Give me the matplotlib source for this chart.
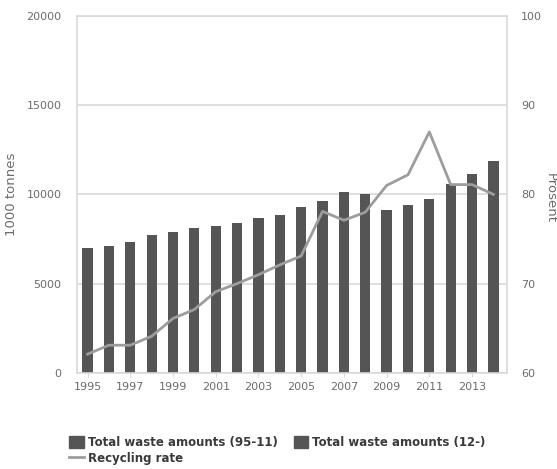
import matplotlib
matplotlib.use('Agg')
from matplotlib import pyplot as plt
from matplotlib.patches import Patch
from matplotlib.lines import Line2D
import numpy as np

plt.rcParams['font.family'] = ['DejaVu Sans']

years_old = [1995, 1996, 1997, 1998, 1999, 2000, 2001, 2002, 2003, 2004,
             2005, 2006, 2007, 2008, 2009, 2010, 2011]
waste_old = [7000, 7110, 7340, 7710, 7900, 8120, 8220, 8370, 8680, 8870,
             9320, 9640, 10120, 10050, 9150, 9410, 9770]
years_new = [2012, 2013, 2014]
waste_new = [10570, 11170, 11860]
years_rate = list(range(1995, 2015))
rate = [62.1, 63.1, 63.1, 64.1, 66.1, 67.1, 69.1, 70.0, 71.0, 72.1,
        73.1, 78.1, 77.1, 78.0, 81.0, 82.2, 87.0, 81.1, 81.1, 80.0]
xticks = list(range(1995, 2014, 2))

bar_c = '#555555'
line_c = '#9d9d9d'
grid_c = '#d9d9d9'
txt_c = '#6b6b6b'

fig = plt.figure(figsize=(5.57, 4.69), dpi=100)
ax = fig.add_axes([0.138, 0.205, 0.772, 0.761])
ax.bar(years_old, waste_old, width=0.48, color=bar_c, zorder=2)
ax.bar(years_new, waste_new, width=0.48, color=bar_c, zorder=2)
ax.set_ylim(0, 20000)
ax.set_yticks([0, 5000, 10000, 15000, 20000])
ax.set_xlim(1994.5, 2014.63)
ax.set_xticks(xticks)
ax.grid(axis='y', color=grid_c, lw=1.2, zorder=0)
ax.set_axisbelow(True)
ax.tick_params(axis='y', length=0, labelsize=8, colors=txt_c, pad=11)
ax.tick_params(axis='x', length=3, color=grid_c, labelsize=8, colors=txt_c)
for s in ax.spines.values():
    s.set_color(grid_c)
    s.set_linewidth(1.2)
ax.set_ylabel('1000 tonnes', color=txt_c, fontsize=9.5)
ax.yaxis.set_label_coords(-0.137, 0.5)

ax2 = ax.twinx()
ax2.plot(years_rate, rate, color=line_c, lw=2, zorder=3)
ax2.set_ylim(60, 100)
ax2.set_yticks([60, 70, 80, 90, 100])
ax2.tick_params(axis='y', length=0, labelsize=8, colors=txt_c, pad=10)
for s in ax2.spines.values():
    s.set_visible(False)
ax2.set_ylabel('Prosent', color=txt_c, fontsize=9.5, rotation=-90,
               va='center')
ax2.yaxis.set_label_coords(1.1, 0.49)

handles = [Patch(color=bar_c), Line2D([], [], color=line_c, lw=2),
           Patch(color=bar_c)]
labels = ['Total waste amounts (95-11)', 'Recycling rate',
          'Total waste amounts (12-)']
leg = fig.legend(handles, labels, ncol=2, loc='upper left',
                 bbox_to_anchor=(0.114, 0.083), frameon=False,
                 prop={'weight': 'bold', 'size': 8.5},
                 handlelength=1.2, handleheight=1.2, handletextpad=0.4,
                 columnspacing=1.3, labelspacing=0.25, borderpad=0)
for t in leg.get_texts():
    t.set_color('#3a3a3a')

fig.savefig('out.png', dpi=100)
